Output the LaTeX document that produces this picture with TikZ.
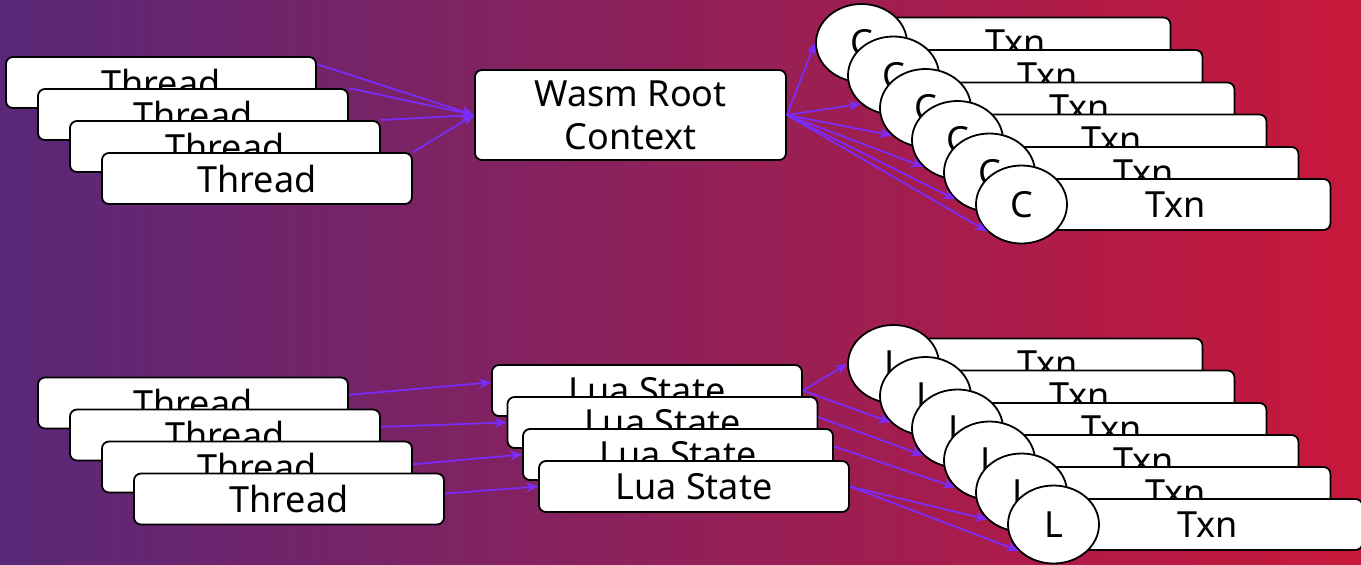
\documentclass[tikz,border=0pt]{standalone}
\usepackage{fontspec}
\setmainfont{Noto Sans}
\usetikzlibrary{shapes,arrows.meta,positioning}
\definecolor{bgleft}{HTML}{592878}
\definecolor{bgmid}{HTML}{93206A}
\definecolor{bgright}{HTML}{C8183A}
\definecolor{linkviolet}{HTML}{7A2CFF}

\begin{document}
\begin{tikzpicture}[
    x=0.5pt, y=-0.5pt,
    box/.style={rectangle, draw, fill=white, rounded corners=3.5pt, line width=0.9pt, minimum width=155pt, minimum height=25.5pt, inner sep=0pt, align=center, font=\fontsize{18}{21.5}\selectfont},
    ctx/.style={ellipse, draw, fill=white, line width=0.9pt, minimum width=45.5pt, minimum height=39pt, inner sep=0pt, font=\fontsize{18}{21.5}\selectfont},
    link/.style={-{Stealth[length=6pt,width=5pt]}, linkviolet, line width=0.85pt}
]
    \useasboundingbox (0,0) rectangle (1361,564);
    \shade[left color=bgleft, middle color=bgmid, right color=bgright] (0,0) rectangle (1361,564);

    % wasm: threads share one root context
    \node[box] (thr1) at (161,82.5) {Thread};
    \node[box] (thr2) at (193,114.5) {Thread};
    \node[box] (thr3) at (225,146.5) {Thread};
    \node[box] (thr4) at (257,178.5) {Thread};
    \node[box, minimum width=155.5pt, minimum height=45pt] (root) at (630.5,115) {Wasm Root\\Context};

    \node[box] (txn1) at (1015.5,43) {Txn};
    \node[ctx] (ctx1) at (861.5,43) {C};
    \node[box] (txn2) at (1047.5,75.5) {Txn};
    \node[ctx] (ctx2) at (893.5,75.5) {C};
    \node[box] (txn3) at (1079.5,108) {Txn};
    \node[ctx] (ctx3) at (925.5,108) {C};
    \node[box] (txn4) at (1111.5,140) {Txn};
    \node[ctx] (ctx4) at (957.5,140) {C};
    \node[box] (txn5) at (1143.5,172.5) {Txn};
    \node[ctx] (ctx5) at (989.5,172.5) {C};
    \node[box] (txn6) at (1175.5,204.5) {Txn};
    \node[ctx] (ctx6) at (1021.5,204.5) {C};

    \draw[link] ([yshift=-4pt]thr1.north east) -- (root.west);
    \draw[link] (thr2.north east) -- (root.west);
    \draw[link] (thr3.north east) -- (root.west);
    \draw[link] (thr4.north east) -- (root.west);

    \draw[link] (root.east) -- (ctx1.west);
    \draw[link] (root.east) -- (ctx2.221);
    \draw[link] (root.east) -- (ctx3.219);
    \draw[link] (root.east) -- (ctx4.218);
    \draw[link] (root.east) -- (ctx5.218);
    \draw[link] (root.east) -- (ctx6.218);

    % lua: one state per thread
    \node[box] (lthr1) at (193,403) {Thread};
    \node[box] (lthr2) at (225,435) {Thread};
    \node[box] (lthr3) at (257,467) {Thread};
    \node[box] (lthr4) at (289,499) {Thread};

    \node[box] (lua1) at (647,390.5) {Lua State};
    \node[box] (lua2) at (662.5,422.5) {Lua State};
    \node[box] (lua3) at (678,454.5) {Lua State};
    \node[box] (lua4) at (694,486.5) {Lua State};

    \node[box] (ltxn1) at (1047.5,364) {Txn};
    \node[ctx] (lst1) at (893.5,364) {L};
    \node[box] (ltxn2) at (1079.5,396) {Txn};
    \node[ctx] (lst2) at (925.5,396) {L};
    \node[box] (ltxn3) at (1111.5,428.5) {Txn};
    \node[ctx] (lst3) at (957.5,428.5) {L};
    \node[box] (ltxn4) at (1143.5,460.5) {Txn};
    \node[ctx] (lst4) at (989.5,460.5) {L};
    \node[box] (ltxn5) at (1175.5,492.5) {Txn};
    \node[ctx] (lst5) at (1021.5,492.5) {L};
    \node[box] (ltxn6) at (1207.5,524.5) {Txn};
    \node[ctx] (lst6) at (1053.5,524.5) {L};

    \draw[link] (lthr1.3) -- (lua1.177);
    \draw[link] (lthr2.3) -- (lua2.west);
    \draw[link] (lthr3.1) -- (lua3.west);
    \draw[link] (lthr4.2) -- (lua4.west);

    \draw[link] (lua1.east) -- (lst1.west);
    \draw[link] (lua1.east) -- (lst2.217);
    \draw[link] (lua2.2) -- (lst3.218);
    \draw[link] (lua3.3) -- (lst4.218);
    \draw[link] (lua4.east) -- (lst5.218);
    \draw[link] (lua4.east) -- (lst6.217);
\end{tikzpicture}
\end{document}
